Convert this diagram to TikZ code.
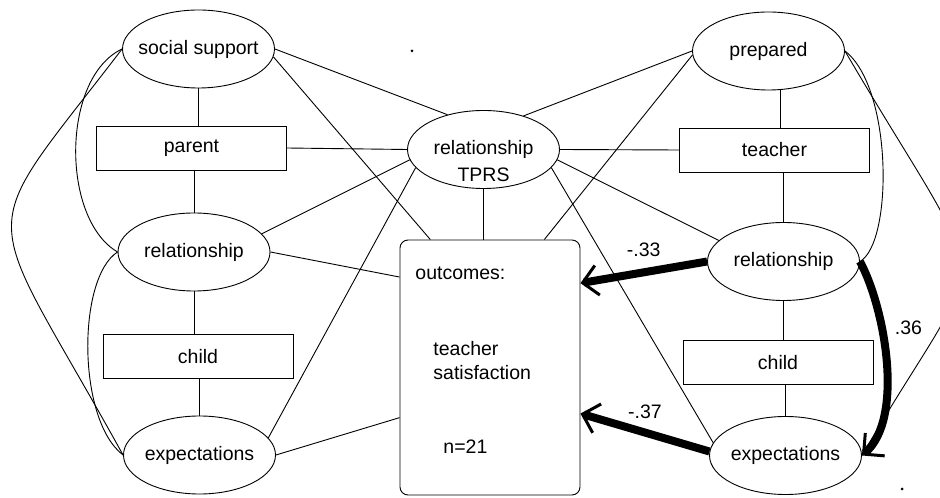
\documentclass[tikz,border=0pt]{standalone}
\usepackage{fontspec}
\setmainfont{Liberation Sans}
\usetikzlibrary{positioning,shapes.geometric,arrows.meta}

\begin{document}
\begin{tikzpicture}[
  x=1pt, y=1pt,
  every node/.style={font=\fontsize{19.5}{24}\selectfont},
  line width=0.9pt,
  latent/.style={ellipse, draw, minimum width=152pt, minimum height=78pt, inner xsep=-12pt, inner ysep=0pt},
  measure/.style={rectangle, draw, minimum width=190pt, minimum height=44pt, inner sep=0pt},
  outcome/.style={rectangle, draw, rounded corners=8pt, minimum width=180pt, minimum height=255pt},
  txt/.style={anchor=west, inner sep=0pt, align=left},
  effect/.style={line width=8pt, -{Straight Barb[length=15pt, width=30pt, line width=3pt]}},
  coef/.style={inner sep=0pt}
]
  \path[use as bounding box, fill=white] (0,0) rectangle (940,498);

  % parent side
  \node[latent]  (ss)   at (198.5,449) {social support};
  \node[measure] (par)  at (191.5,350) {parent};
  \node[latent]  (relL) at (194,246)   {relationship};
  \node[measure] (chL)  at (198,141.5) {child};
  \node[latent]  (expL) at (199.5,43)  {expectations};

  % middle
  \node[latent] (tprs) at (483.5,348.5) {};
  \node[align=center] (tprslbl) at ([yshift=-12pt]tprs.center) {relationship\\[3pt]TPRS};
  \node[outcome] (out) at (490,130.5) {};
  \node[txt] (outlbl) at (415,225) {outcomes:};
  \node[txt] (satlbl) at (433,137) {teacher\\satisfaction};
  \node[txt] (nlbl)   at (443,51)  {n=21};

  % teacher side
  \node[latent]  (prep)  at (768.5,447) {prepared};
  \node[measure] (teach) at (774.5,348) {teacher};
  \node[latent]  (relR)  at (783.5,236.5) {relationship};
  \node[measure] (chR)   at (778,135.5) {child};
  \node[latent]  (expR)  at (785.5,42.5) {expectations};

  % stray dots
  \fill (412,447) circle (1.5pt);
  \fill (902,9) circle (1.5pt);

  % indicators
  \draw (ss) -- (ss |- par.north);
  \draw (relL |- par.south) -- (relL);
  \draw (relL) -- (relL |- chL.north);
  \draw (expL |- chL.south) -- (expL);
  \draw (prep.-73) -- (prep.-73 |- teach.north);
  \draw (relR |- teach.south) -- (relR);
  \draw (relR) -- (relR |- chR.north);
  \draw (expR |- chR.south) -- (expR);

  % correlations, parent side
  \draw (ss.east) -- (tprs.136);
  \draw (ss.-6) -- (out.115);
  \draw (par.east) -- (tprs.west);
  \draw (relL.15) -- (tprs.188);
  \draw (relL.east) -- (out.135.5);
  \draw (expL.14) -- (tprs.195);
  \draw (expL.east) -- (out.209);
  \draw (ss.west) .. controls (-30,250) and (-21,304) .. (expL.west);
  \draw (ss.west) .. controls (61,420) and (61,279) .. (relL.west);
  \draw (relL.west) .. controls (77,220) and (77,78) .. (expL.west);

  % correlations, teacher side
  \draw (prep.west) -- (tprs.40);
  \draw (prep.183) -- (out.67);
  \draw (tprs.east) -- (teach.west);
  \draw (tprs.-8) -- (relR.162);
  \draw (tprs.-15) -- (expR.170);
  \draw (tprs) -- (tprs |- out.north);
  \draw (prep.east) .. controls (893,410) and (893,255) .. (relR.east);
  \draw (prep.east) .. controls (999,184) and (992,267) .. (expR.east);

  % significant paths
  \draw[effect] (relR.west) -- node[coef, above=12pt] {-.33} (out.43.5);
  \draw[effect] (expR.177) -- node[coef, above=10pt] {-.37} (out.-27);
  \draw[effect] (relR.east) .. controls (885,190) and (905,79) .. node[coef, right=9pt, pos=.35] {.36} (expR.east);
\end{tikzpicture}
\end{document}
